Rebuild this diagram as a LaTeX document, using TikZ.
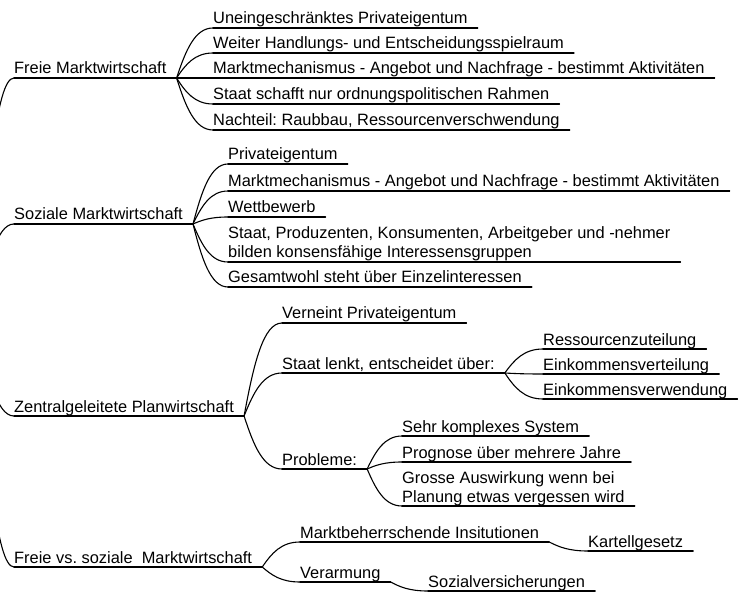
\documentclass[tikz,border=0pt]{standalone}
\usepackage{fontspec}
\setmainfont{Liberation Sans}
\usetikzlibrary{calc}
\frenchspacing
\tikzset{
  lbl/.style={anchor=base west, inner sep=0pt, font=\fontsize{16.4}{19}\selectfont},
  ul/.style={line width=1.1pt, black, line cap=round},
}
\newcommand\mmnode[4]{%
  \node[lbl] (#1) at (#2,#3-4) {#4};
  \coordinate (#1-l) at (#2,#3);
  \coordinate (#1-r) at ($(#1.base east)+(10,4)$);
  \draw[ul] (#1-l) -- (#1-r);
}
\newcommand\mmlink[2]{%
  \draw[ul] let \p1=(#1), \p2=(#2) in (\p1) .. controls ({\x1+0.25*(\x2-\x1)},{\y1+0.55*(\y2-\y1)}) and ({\x1+0.5*(\x2-\x1)},{\y2}) .. (\p2);
}
\newcommand\twoline[2]{\begin{tabular}[b]{@{}l@{}}#1\\#2\end{tabular}}
\begin{document}
\begin{tikzpicture}[x=1pt,y=-1pt]
\useasboundingbox (0,0) rectangle (742,596);
\clip (0,0) rectangle (742,596);
\coordinate (root) at (-22,320);
% level 1
\mmnode{fm}{14}{78}{Freie Marktwirtschaft}
\mmnode{sm}{14}{224}{Soziale Marktwirtschaft}
\mmnode{zp}{14}{416}{Zentralgeleitete Planwirtschaft}
\mmnode{fs}{14}{567}{Freie vs. soziale~~Marktwirtschaft}
% Freie Marktwirtschaft
\mmnode{fma}{213}{28}{Uneingeschränktes Privateigentum}
\mmnode{fmb}{213}{53}{Weiter Handlungs- und Entscheidungsspielraum}
\mmnode{fmc}{213}{78}{Marktmechanismus - Angebot und Nachfrage - bestimmt Aktivitäten}
\mmnode{fmd}{213}{104}{Staat schafft nur ordnungspolitischen Rahmen}
\mmnode{fme}{213}{130}{Nachteil: Raubbau, Ressourcenverschwendung}
% Soziale Marktwirtschaft
\mmnode{sma}{228}{164}{Privateigentum}
\mmnode{smb}{228}{191}{Marktmechanismus - Angebot und Nachfrage - bestimmt Aktivitäten}
\mmnode{smc}{228}{217}{Wettbewerb}
\mmnode{smd}{228}{262}{\twoline{Staat, Produzenten, Konsumenten, Arbeitgeber und -nehmer}{bilden konsensfähige Interessensgruppen}}
\mmnode{sme}{228}{287}{Gesamtwohl steht über Einzelinteressen}
% Zentralgeleitete Planwirtschaft
\mmnode{zpa}{282}{323}{Verneint Privateigentum}
\mmnode{zpb}{282}{373}{Staat lenkt, entscheidet über:}
\mmnode{zpc}{282}{469}{Probleme:}
\mmnode{zpba}{543}{349}{Ressourcenzuteilung}
\mmnode{zpbb}{543}{374}{Einkommensverteilung}
\mmnode{zpbc}{543}{399}{Einkommensverwendung}
\mmnode{zpca}{402}{436}{Sehr komplexes System}
\mmnode{zpcb}{402}{462}{Prognose über mehrere Jahre}
\mmnode{zpcc}{402}{506}{\twoline{Grosse Auswirkung wenn bei}{Planung etwas vergessen wird}}
% Freie vs. soziale
\mmnode{fsa}{300}{542}{Marktbeherrschende Insitutionen}
\mmnode{fsb}{300}{582}{Verarmung}
\mmnode{fsaa}{588}{551}{Kartellgesetz}
\mmnode{fsba}{428}{591}{Sozialversicherungen}
% links
\mmlink{root}{fm-l}
\mmlink{root}{sm-l}
\mmlink{root}{zp-l}
\mmlink{root}{fs-l}
\foreach \c in {fma,fmb,fmc,fmd,fme} {\mmlink{fm-r}{\c-l}}
\foreach \c in {sma,smb,smc,smd,sme} {\mmlink{sm-r}{\c-l}}
\foreach \c in {zpa,zpb,zpc} {\mmlink{zp-r}{\c-l}}
\foreach \c in {zpba,zpbb,zpbc} {\mmlink{zpb-r}{\c-l}}
\foreach \c in {zpca,zpcb,zpcc} {\mmlink{zpc-r}{\c-l}}
\foreach \c in {fsa,fsb} {\mmlink{fs-r}{\c-l}}
\mmlink{fsa-r}{fsaa-l}
\mmlink{fsb-r}{fsba-l}
\end{tikzpicture}
\end{document}
